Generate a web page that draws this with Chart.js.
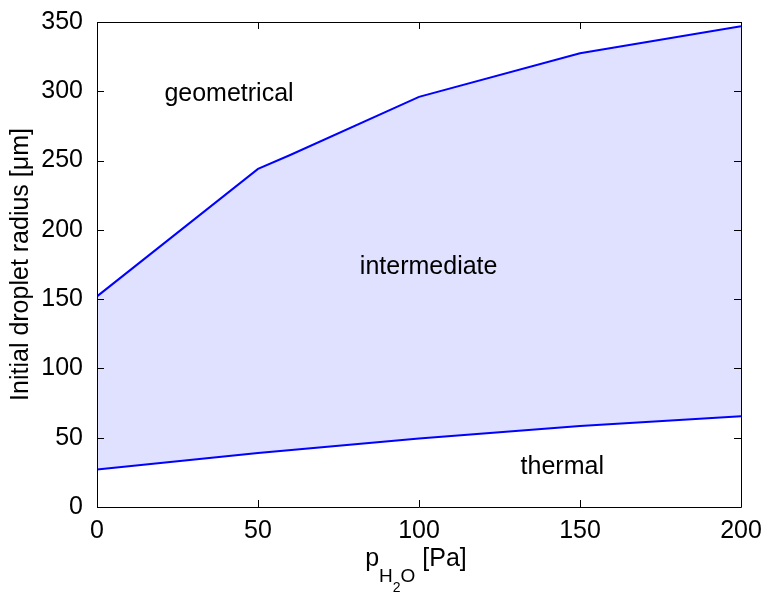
<!DOCTYPE html>
<html>
<head>
<meta charset="utf-8">
<script src="https://cdn.jsdelivr.net/npm/chart.js@4/dist/chart.umd.min.js"></script>
<style>
    body { margin: 0; background: #fff; }
    #wrap { width: 763px; height: 592px; }
</style>
</head>
<body>
<div id="wrap"><canvas id="myChart" width="763" height="592"></canvas></div>
<script>
// upper boundary (geometrical / intermediate)
const upperX = [0, 50, 60, 100, 150, 200];
const upperY = [152, 244, 254, 296, 327.5, 347];
// lower boundary (intermediate / thermal)
const lowerX = [0, 50, 100, 150, 200];
const lowerY = [27, 39, 49.5, 58.5, 65.5];

const xTicks = [0, 50, 100, 150, 200];
const yTicks = [0, 50, 100, 150, 200, 250, 300, 350];

const regionNames = ['geometrical', 'intermediate', 'thermal'];
const regionX = [41, 103, 144.5];
const regionY = [298, 173, 29];

const FONT = '"Liberation Sans", Arial, sans-serif';
const FONT_SIZE = 25;

function toPoints(xs, ys) {
    return xs.map((x, i) => ({ x: x, y: ys[i] }));
}

const frameAndLabels = {
    id: 'frameAndLabels',
    afterDatasetsDraw(chart) {
        const ctx = chart.ctx;
        const area = chart.chartArea;
        const xs = chart.scales.x;
        const ys = chart.scales.y;
        const tick = 7;

        ctx.save();
        ctx.strokeStyle = '#000';
        ctx.lineWidth = 1;
        ctx.beginPath();
        ctx.rect(Math.round(area.left) + 0.5, Math.round(area.top) + 0.5,
            Math.round(area.right - area.left), Math.round(area.bottom - area.top));
        xTicks.forEach(v => {
            const px = Math.round(xs.getPixelForValue(v)) + 0.5;
            ctx.moveTo(px, area.bottom);
            ctx.lineTo(px, area.bottom - tick);
            ctx.moveTo(px, area.top);
            ctx.lineTo(px, area.top + tick);
        });
        yTicks.forEach(v => {
            const py = Math.round(ys.getPixelForValue(v)) + 0.5;
            ctx.moveTo(area.left, py);
            ctx.lineTo(area.left + tick, py);
            ctx.moveTo(area.right, py);
            ctx.lineTo(area.right - tick, py);
        });
        ctx.stroke();

        // region names
        ctx.fillStyle = '#000';
        ctx.font = FONT_SIZE + 'px ' + FONT;
        ctx.textAlign = 'center';
        ctx.textBaseline = 'middle';
        regionNames.forEach((name, i) => {
            ctx.fillText(name, xs.getPixelForValue(regionX[i]), ys.getPixelForValue(regionY[i]));
        });

        // y title
        ctx.save();
        ctx.translate(21, (area.top + area.bottom) / 2);
        ctx.rotate(-Math.PI / 2);
        ctx.fillText('Initial droplet radius [\u03bcm]', 0, 0);
        ctx.restore();

        // x title: p_{H_2O} [Pa]
        const parts = [
            { t: 'p', size: FONT_SIZE, dy: 0 },
            { t: 'H', size: 19, dy: 16 },
            { t: '2', size: 14, dy: 26 },
            { t: 'O', size: 19, dy: 16 },
            { t: ' [Pa]', size: FONT_SIZE, dy: 0 },
        ];
        ctx.textAlign = 'left';
        ctx.textBaseline = 'alphabetic';
        let total = 0;
        parts.forEach(p => {
            ctx.font = p.size + 'px ' + FONT;
            p.w = ctx.measureText(p.t).width;
            total += p.w;
        });
        let x = 416 - total / 2;
        const base = 566;
        parts.forEach(p => {
            ctx.font = p.size + 'px ' + FONT;
            ctx.fillText(p.t, x, base + p.dy);
            x += p.w;
        });
        ctx.restore();
    }
};

const ctx = document.getElementById('myChart').getContext('2d');
new Chart(ctx, {
    type: 'line',
    data: {
        datasets: [
            {
                label: 'upper',
                data: toPoints(upperX, upperY),
                borderColor: '#0000ff',
                borderWidth: 2,
                pointRadius: 0,
                tension: 0,
                fill: '+1',
                backgroundColor: 'rgb(224, 224, 255)',
            },
            {
                label: 'lower',
                data: toPoints(lowerX, lowerY),
                borderColor: '#0000ff',
                borderWidth: 2,
                pointRadius: 0,
                tension: 0,
                fill: false,
            }
        ]
    },
    options: {
        responsive: false,
        animation: false,
        layout: { padding: { left: 0, right: 22, top: 22, bottom: 0 } },
        plugins: {
            legend: { display: false },
            tooltip: { enabled: false },
            filler: { drawTime: 'beforeDatasetsDraw' },
        },
        scales: {
            x: {
                type: 'linear',
                min: 0,
                max: 200,
                grid: { display: false },
                border: { display: false },
                afterBuildTicks: scale => { scale.ticks = xTicks.map(v => ({ value: v })); },
                afterFit: scale => { scale.height = 85; },
                ticks: { color: '#000', padding: 1, font: { family: FONT, size: FONT_SIZE } },
            },
            y: {
                min: 0,
                max: 350,
                grid: { display: false },
                border: { display: false },
                afterBuildTicks: scale => { scale.ticks = yTicks.map(v => ({ value: v })); },
                afterFit: scale => { scale.width = 97; },
                ticks: { color: '#000', padding: 6, font: { family: FONT, size: FONT_SIZE } },
            }
        }
    },
    plugins: [frameAndLabels]
});
</script>
</body>
</html>
